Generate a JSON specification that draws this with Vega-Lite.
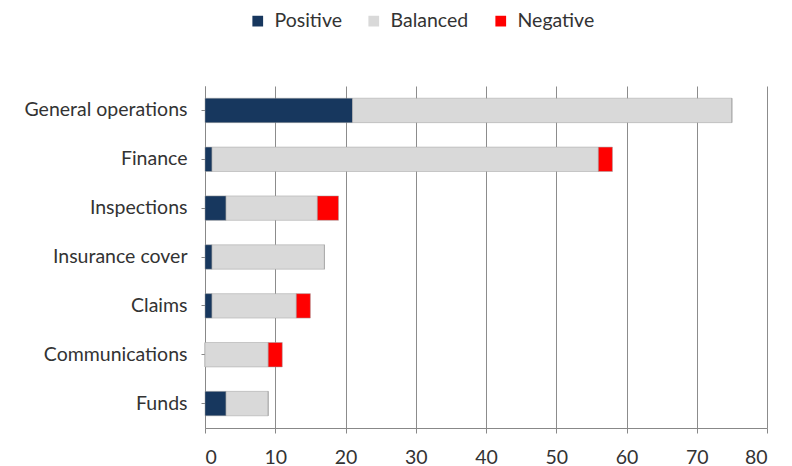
{
  "$schema": "https://vega.github.io/schema/vega-lite/v6.json",
  "autosize": {"type": "none"},
  "width": 562,
  "height": 342,
  "padding": {"left": 205, "top": 86, "right": 25, "bottom": 38},
  "background": "white",
  "config": {
    "font": "Lato",
    "view": {"stroke": null}
  },
  "data": {
    "values": [
      {"area": "General operations", "sentiment": "Positive", "count": 21},
      {"area": "General operations", "sentiment": "Balanced", "count": 54},
      {"area": "General operations", "sentiment": "Negative", "count": 0},
      {"area": "Finance", "sentiment": "Positive", "count": 1},
      {"area": "Finance", "sentiment": "Balanced", "count": 55},
      {"area": "Finance", "sentiment": "Negative", "count": 2},
      {"area": "Inspections", "sentiment": "Positive", "count": 3},
      {"area": "Inspections", "sentiment": "Balanced", "count": 13},
      {"area": "Inspections", "sentiment": "Negative", "count": 3},
      {"area": "Insurance cover", "sentiment": "Positive", "count": 1},
      {"area": "Insurance cover", "sentiment": "Balanced", "count": 16},
      {"area": "Insurance cover", "sentiment": "Negative", "count": 0},
      {"area": "Claims", "sentiment": "Positive", "count": 1},
      {"area": "Claims", "sentiment": "Balanced", "count": 12},
      {"area": "Claims", "sentiment": "Negative", "count": 2},
      {"area": "Communications", "sentiment": "Positive", "count": 0},
      {"area": "Communications", "sentiment": "Balanced", "count": 9},
      {"area": "Communications", "sentiment": "Negative", "count": 2},
      {"area": "Funds", "sentiment": "Positive", "count": 3},
      {"area": "Funds", "sentiment": "Balanced", "count": 6},
      {"area": "Funds", "sentiment": "Negative", "count": 0}
    ]
  },
  "transform": [
    {"calculate": "indexof(['Positive','Balanced','Negative'], datum.sentiment)", "as": "stackOrder"}
  ],
  "mark": {"type": "bar", "stroke": "#a0a0a0", "strokeWidth": 0.5},
  "encoding": {
    "y": {
      "field": "area",
      "type": "nominal",
      "sort": ["General operations", "Finance", "Inspections", "Insurance cover", "Claims", "Communications", "Funds"],
      "scale": {"paddingInner": 0.5, "paddingOuter": 0.25},
      "axis": {
        "title": null,
        "labelFontSize": 19.5,
        "labelColor": "#333333",
        "labelPadding": 14,
        "domainColor": "#888888",
        "tickColor": "#888888",
        "tickSize": 4,
        "ticks": true
      }
    },
    "x": {
      "field": "count",
      "type": "quantitative",
      "stack": "zero",
      "scale": {"domain": [0, 80], "nice": false},
      "axis": {
        "title": null,
        "values": [0, 10, 20, 30, 40, 50, 60, 70, 80],
        "labelFontSize": 19.5,
        "labelColor": "#333333",
        "labelPadding": 15,
        "gridColor": "#8c8c8c",
        "gridWidth": 1,
        "domainColor": "#888888",
        "tickColor": "#888888",
        "tickSize": 5
      }
    },
    "color": {
      "field": "sentiment",
      "type": "nominal",
      "scale": {
        "domain": ["Positive", "Balanced", "Negative"],
        "range": ["#17375e", "#d9d9d9", "#ff0000"]
      },
      "legend": {
        "title": null,
        "orient": "none",
        "direction": "horizontal",
        "legendX": 43,
        "legendY": -75,
        "symbolType": "square",
        "symbolSize": 115,
        "symbolStrokeWidth": 0,
        "labelFontSize": 19.5,
        "labelColor": "#333333",
        "columnPadding": 22,
        "labelOffset": 7
      }
    },
    "order": {"field": "stackOrder", "type": "quantitative"}
  }
}
